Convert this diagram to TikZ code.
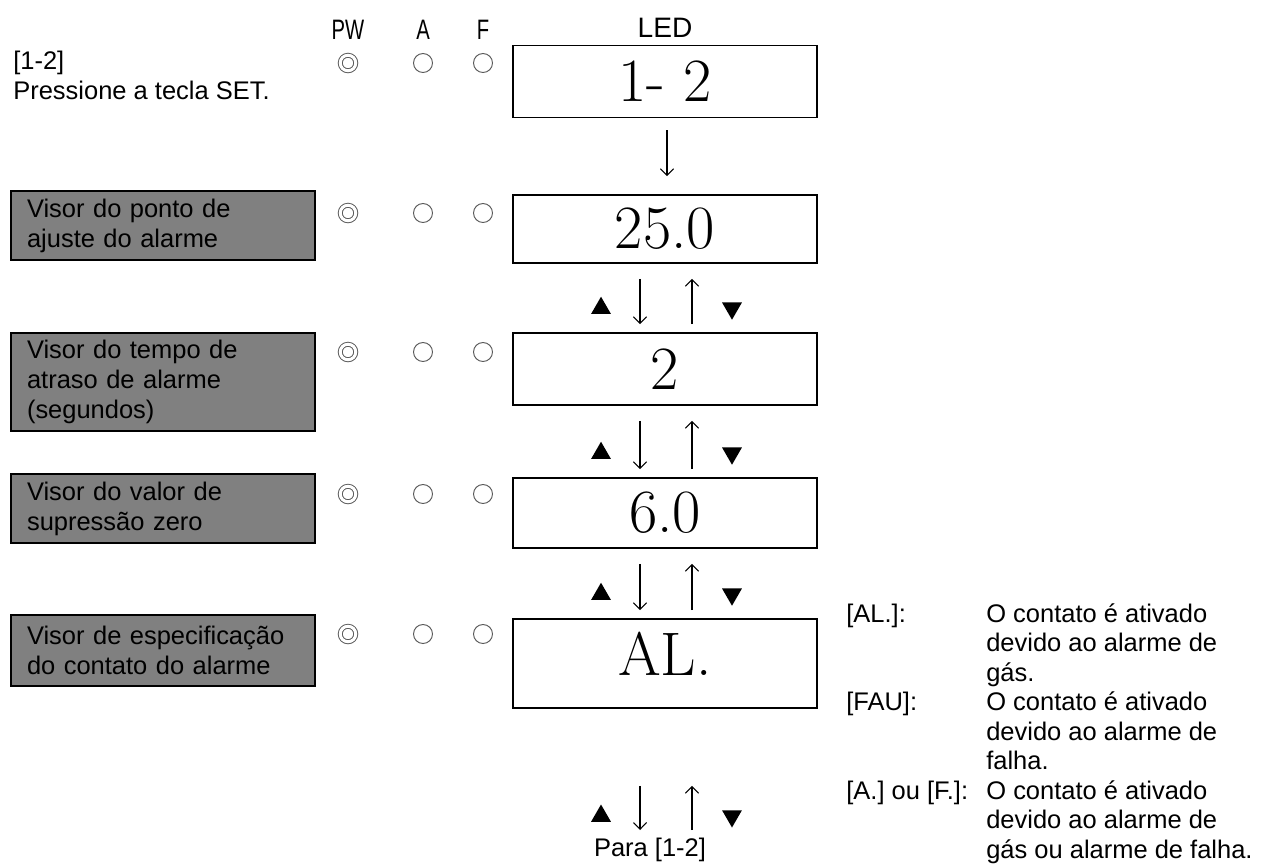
\documentclass[tikz,border=0pt]{standalone}
\usepackage{fontspec}
\setsansfont{Liberation Sans}
\usetikzlibrary{arrows.meta}
\usetikzlibrary{positioning}
\usetikzlibrary{shapes.geometric}
\definecolor{visorgray}{RGB}{128,128,128}
\definecolor{lampgray}{RGB}{90,90,90}

\begin{document}
\begin{tikzpicture}[x=0.02cm,y=-0.02cm,
  every node/.style={font=\sffamily\fontsize{14.5}{17}\selectfont},
  visor/.style={draw=black,line width=1.4pt,fill=visorgray,text width=5.44cm,inner xsep=0.32cm,align=left},
  ledbox/.style={draw,line width=0.9pt,minimum width=6.08cm,font=\rmfamily\fontsize{35}{36}\selectfont},
  lamp/.style={circle,draw=lampgray,line width=0.55pt,minimum size=0.38cm,inner sep=0},
  pwlamp/.style={lamp,double,double distance=1.7pt,minimum size=0.31cm},
  updown/.style={-{Straight Barb[length=3.8pt,width=7.5pt]},line width=0.6pt},
  uptri/.style={regular polygon,regular polygon sides=3,fill=black,inner sep=0,minimum size=0.46cm},
  downtri/.style={uptri,shape border rotate=180},
  head/.style={font=\sffamily\fontsize{16}{17}\selectfont}]
  \useasboundingbox (0,0) rectangle (1265,866);
  % the headers
  \node[head] (hpw) at (348,30) {\scalebox{0.72}[1]{PW}};
  \node[head] (ha) at (423,30) {\scalebox{0.72}[1]{A}};
  \node[head] (hf) at (483,30) {\scalebox{0.72}[1]{F}};
  \node[head] (hled) at (665,28) {LED};
  \node[anchor=north west,inner sep=0,align=left] (intro) at (13,51) {[1-2]\\Pressione a tecla SET.};
  % the led windows
  \node[ledbox,minimum height=1.44cm] (led1) at (665,81.5) {1- 2};
  \node[ledbox,minimum height=1.36cm] (led2) at (665,229) {25.0};
  \node[ledbox,minimum height=1.44cm] (led3) at (665,369) {2};
  \node[ledbox,minimum height=1.40cm] (led4) at (665,513) {6.0};
  \node[ledbox,minimum height=1.78cm,text depth=0.4cm] (led5) at (665,663.5) {AL.};
  % the visor labels
  \node[visor,minimum height=1.38cm] (vis1) at (163,225.5) {Visor do ponto de\\ajuste do alarme};
  \node[visor,minimum height=1.96cm] (vis2) at (163,382) {Visor do tempo de\\atraso de alarme\\(segundos)};
  \node[visor,minimum height=1.38cm] (vis3) at (163,508.5) {Visor do valor de\\supressão zero};
  \node[visor,minimum height=1.42cm] (vis4) at (163,650.5) {Visor de especificação\\do contato do alarme};
  % the lamps
  \foreach \row/\y in {1/63,2/213,3/352,4/494,5/634}{
    \node[pwlamp] (pw\row) at (348,\y) {};
    \node[lamp] (a\row) at (423,\y) {};
    \node[lamp] (f\row) at (483,\y) {};
  }
  % the arrows
  \draw[updown,shorten <=0.24cm,shorten >=0.36cm] ([xshift=0.04cm]led1.south) -- ([xshift=0.04cm]led2.north);
  \foreach \a/\b in {led2/led3,led3/led4,led4/led5}{
    \draw[updown,shorten <=0.3cm,shorten >=0.16cm] ([xshift=-0.5cm]\a.south) -- ([xshift=-0.5cm]\b.north);
    \draw[updown,shorten <=0.16cm,shorten >=0.3cm] ([xshift=0.54cm]\b.north) -- ([xshift=0.54cm]\a.south);
    \node[uptri] (up-\b) at ([xshift=-1.28cm,yshift=0.48cm]\b.north) {};
    \node[downtri] (down-\b) at ([xshift=1.34cm,yshift=0.48cm]\b.north) {};
  }
  \coordinate (back) at (665,830);
  \draw[updown,shorten <=1.54cm] ([xshift=-0.5cm]led5.south) -- ([xshift=-0.5cm]back);
  \draw[updown,shorten >=1.54cm] ([xshift=0.54cm]back) -- ([xshift=0.54cm]led5.south);
  \node[uptri] (up-back) at ([xshift=-1.28cm,yshift=0.28cm]back) {};
  \node[downtri] (down-back) at ([xshift=1.34cm,yshift=0.28cm]back) {};
  \node (para) at (650,850) {Para [1-2]};
  % the notes
  \node[anchor=north west,inner sep=0,font=\sffamily\fontsize{14.5}{16.8}\selectfont] (notes) at (846,601) {\begin{tabular}{@{}p{2.8cm}@{}l@{}}
    {[AL.]:} & O contato é ativado\\
    & devido ao alarme de\\
    & gás.\\
    {[FAU]:} & O contato é ativado\\
    & devido ao alarme de\\
    & falha.\\
    {[A.] ou [F.]:} & O contato é ativado\\
    & devido ao alarme de\\
    & gás ou alarme de falha.
  \end{tabular}};
\end{tikzpicture}
\end{document}
